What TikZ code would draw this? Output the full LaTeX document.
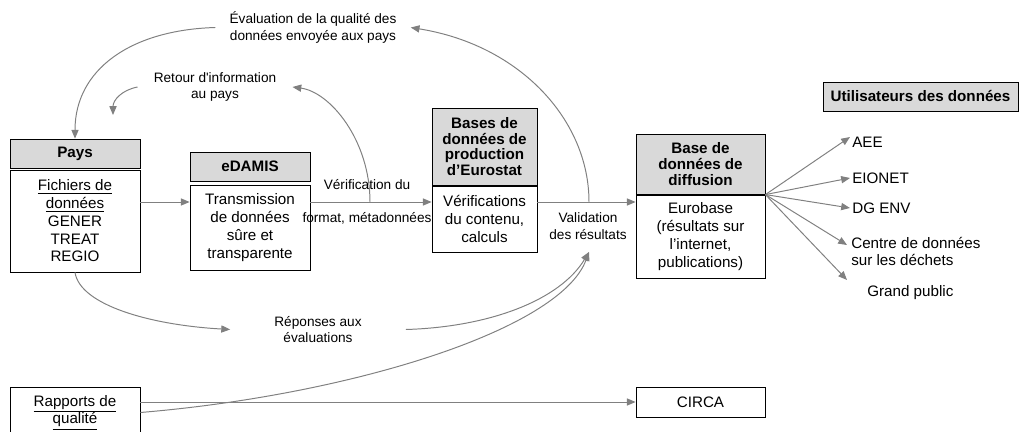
\documentclass[tikz,border=0pt]{standalone}
\usepackage{fontspec}
\setmainfont{Liberation Sans}
\usetikzlibrary{arrows.meta,positioning,shadows}
\newcommand{\pxl}{0.025cm}
\tikzset{head box/.style={rectangle,draw=black,fill=black!15,line width=0.6pt,align=center,inner sep=0pt,
           font=\fontsize{10.8}{11.2}\selectfont\bfseries,
           drop shadow={shadow xshift=0.6pt,shadow yshift=-0.6pt,opacity=1,fill=black!55}},
         body box/.style={rectangle,draw=black,fill=white,line width=0.6pt,align=center,inner sep=0pt,
           font=\fontsize{10.8}{12.6}\selectfont},
         flow label/.style={rectangle,draw=none,fill=none,align=center,inner ysep=1pt,
           font=\fontsize{9.7}{11.8}\selectfont},
         user label/.style={rectangle,draw=none,fill=none,align=left,inner sep=0pt,anchor=west,
           font=\fontsize{10.8}{12.6}\selectfont},
         flow/.style={draw=black!50,line width=0.7pt,-{Triangle[length=2.2mm,width=1.8mm]}},
}
\begin{document}
\begin{tikzpicture}[x=\pxl,y=-\pxl]
\useasboundingbox (0,0) rectangle (1021,432);
% \draw[help lines,step=50] (0,0) grid (1021,432);

% boxes
\node[head box,minimum width=130*\pxl,minimum height=29*\pxl] (pays) at (75,153.5) {Pays};
\node[body box,minimum width=130*\pxl,minimum height=102*\pxl] (paysb) at (75,221)
    {\underline{Fichiers de}\\\underline{données}\\GENER\\TREAT\\REGIO};
\node[head box,minimum width=120*\pxl,minimum height=29*\pxl] (edamis) at (250,166.5) {eDAMIS};
\node[body box,minimum width=120*\pxl,minimum height=85*\pxl] (edamisb) at (250,227.5)
    {Transmission\\de données\\sûre et\\transparente};
\node[head box,minimum width=105*\pxl,minimum height=77*\pxl] (prod) at (484.5,146.5)
    {Bases de\\données de\\production\\d’Eurostat};
\node[body box,minimum width=105*\pxl,minimum height=66*\pxl] (prodb) at (484.5,219)
    {Vérifications\\du contenu,\\calculs};
\node[head box,minimum width=129*\pxl,minimum height=60*\pxl] (diff) at (700.5,164)
    {Base de\\données de\\diffusion};
\node[body box,minimum width=129*\pxl,minimum height=83*\pxl] (diffb) at (700.5,236.5)
    {Eurobase\\(résultats sur\\l’internet,\\publications)};
\node[head box,minimum width=195*\pxl,minimum height=29*\pxl] (users) at (920.5,96.5) {Utilisateurs des données};
\node[body box,minimum width=129*\pxl,minimum height=30*\pxl] (circa) at (700.5,402) {CIRCA};
\node[body box,minimum width=130*\pxl,minimum height=51*\pxl] (rapports) at (75,412.5)
    {\underline{Rapports de}\\\underline{qualité}};

% labels
\node[flow label] (verif) at (367,185) {Vérification du};
\node[flow label] (format) at (367,218) {format, métadonnées};
\node[flow label] (valid) at (588,226) {Validation\\des résultats};
\node[flow label,inner xsep=0.35cm] (eval) at (313,27.5) {Évaluation de la qualité des\\données envoyée aux pays};
\node[flow label,inner xsep=0.4cm] (retour) at (215,87) {Retour d\textquotesingle information\\au pays};
\node[flow label,inner xsep=1.1cm] (reponses) at (318,329.5) {Réponses aux\\évaluations};

\node[user label] (aee) at (852,142) {AEE};
\node[user label] (eionet) at (852,178) {EIONET};
\node[user label] (dgenv) at (852,208) {DG ENV};
\node[user label] (centre) at (851,251.5) {Centre de données\\sur les déchets};
\node[user label] (public) at (867,293) {Grand public};

\coordinate (row) at (0,202);
\coordinate (split1) at (370,202);
\coordinate (split2) at (589,202);
\coordinate (rtip) at (113,115);
\coordinate (vtip) at (589,252);
\coordinate (t1) at (850,137);
\coordinate (t2) at (850,178);
\coordinate (t3) at (850,208);
\coordinate (t4) at (847,245);
\coordinate (t5) at (847,280);

% main flow
\draw[flow] (paysb.east |- row) -- (edamisb.west |- row);
\draw[flow] (edamisb.east |- row) -- (prodb.west |- row);
\draw[flow] (prodb.east |- row) -- (diffb.west |- row);
\draw[flow] (rapports.east |- circa.west) -- (circa.west);

% feedback
\draw[flow] (split1) .. controls (370,140) and (330,92) .. (retour.east);
\draw[flow] (retour.west) .. controls (122,90) and (113,100) .. (rtip);
\draw[flow] (split2) .. controls (589,120) and (520,45) .. (eval.east);
\draw[flow] (eval.west) .. controls (130,30) and (75,70) .. (pays.north);
\draw[flow] (paysb.south) .. controls (80,305) and (150,325) .. (reponses.west);
\draw[flow] (reponses.east) .. controls (490,327) and (560,300) .. (vtip);
\draw[flow] (rapports.east) .. controls (350,395) and (560,330) .. (vtip);

% users
\foreach \t in {t1,t2,t3,t4,t5}
    \draw[flow] (diffb.north east) -- (\t);
\end{tikzpicture}
\end{document}
